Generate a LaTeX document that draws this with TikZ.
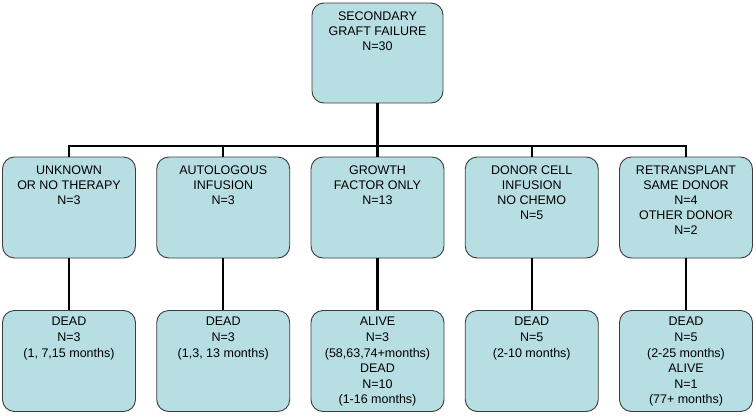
\documentclass[tikz,border=0pt]{standalone}
\usepackage{fontspec}
\setmainfont{Liberation Sans}
\usepackage{tikz}
\usetikzlibrary{positioning}
\definecolor{boxfill}{RGB}{183,222,227}
\definecolor{boxline}{RGB}{60,60,60}

\tikzset{
    box/.style={draw=boxline, fill=boxfill, line width=0.9pt, rounded corners=12pt,
                minimum width=133pt, minimum height=101pt, inner sep=0pt},
    lbl/.style={anchor=north, align=center, inner sep=0pt, yshift=-9.5pt,
                font=\fontsize{12.5}{14.8}\selectfont},
    lbllow/.style={lbl, yshift=2.5pt, font=\fontsize{12.5}{15.6}\selectfont},
    conn/.style={line width=2.4pt, black}
}

\begin{document}
\begin{tikzpicture}[x=1pt, y=-1pt]
    \useasboundingbox (0,0) rectangle (756,416);

    % top
    \node[box, minimum width=131pt, minimum height=100pt] (top) at (377.5,53) {};
    \node[lbl] (topT) at (top.north) {SECONDARY\\GRAFT FAILURE\\N=30};
    \coordinate (fork) at (377.5,146);

    % therapy row
    \node[box] (m1) at (69,207.5) {};
    \node[box] (m2) at (223.25,207.5) {};
    \node[box] (m3) at (377.5,207.5) {};
    \node[box] (m4) at (531.75,207.5) {};
    \node[box] (m5) at (686,207.5) {};
    \node[lbl] (m1T) at (m1.north) {UNKNOWN\\OR NO THERAPY\\N=3};
    \node[lbl] (m2T) at (m2.north) {AUTOLOGOUS\\INFUSION\\N=3};
    \node[lbl] (m3T) at (m3.north) {GROWTH\\FACTOR ONLY\\N=13};
    \node[lbl] (m4T) at (m4.north) {DONOR CELL\\INFUSION\\NO CHEMO\\N=5};
    \node[lbl] (m5T) at (m5.north) {RETRANSPLANT\\SAME DONOR\\N=4\\OTHER DONOR\\N=2};

    % outcome row
    \node[box] (b1) at (69,361) {};
    \node[box] (b2) at (223.25,361) {};
    \node[box] (b3) at (377.5,361) {};
    \node[box] (b4) at (531.75,361) {};
    \node[box] (b5) at (686,361) {};
    \node[lbllow] (b1T) at (b1.north) {DEAD\\N=3\\(1, 7,15 months)};
    \node[lbllow] (b2T) at (b2.north) {DEAD\\N=3\\(1,3, 13 months)};
    \node[lbllow] (b3T) at (b3.north) {ALIVE\\N=3\\(58,63,74+months)\\DEAD\\N=10\\(1-16 months)};
    \node[lbllow] (b4T) at (b4.north) {DEAD\\N=5\\(2-10 months)};
    \node[lbllow] (b5T) at (b5.north) {DEAD\\N=5\\(2-25 months)\\ALIVE\\N=1\\(77+ months)};

    % connectors
    \draw[conn] (top.south) -- (fork);
    \foreach \i in {1,...,5} {
        \draw[conn] (fork) -| (m\i.north);
        \draw[conn] (m\i.south) -- (b\i.north);
    }
\end{tikzpicture}
\end{document}
